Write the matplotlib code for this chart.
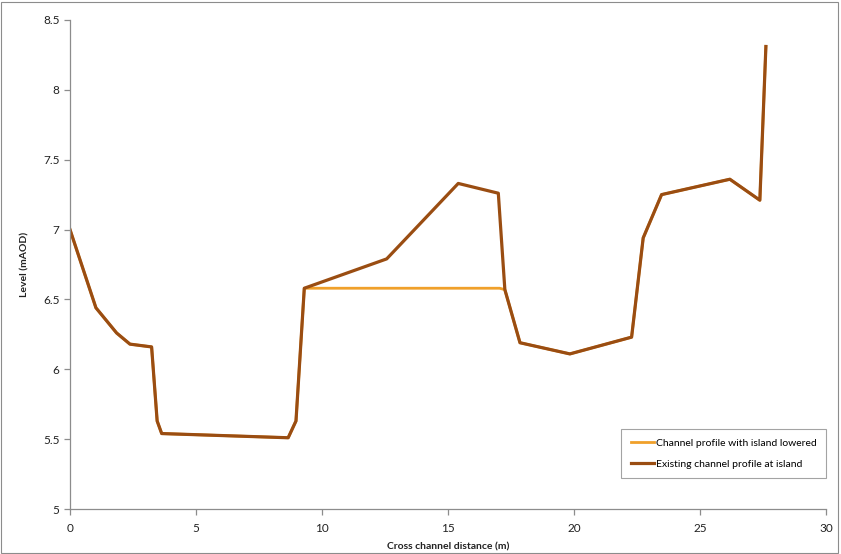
import matplotlib.pyplot as plt
from matplotlib.patches import Rectangle

# cross channel distance (m) and level (mAOD)
existing_x = [0.0, 1.03, 1.85, 2.38, 3.24, 3.46, 3.64, 8.66, 8.97, 9.3, 12.57,
              15.41, 17.0, 17.26, 17.86, 19.84, 22.29, 22.75, 23.48, 26.19, 27.38, 27.62]
existing_y = [7.0, 6.44, 6.26, 6.18, 6.16, 5.63, 5.54, 5.51, 5.63, 6.58, 6.79,
              7.33, 7.26, 6.57, 6.19, 6.11, 6.23, 6.94, 7.25, 7.36, 7.21, 8.31]

lowered_x = [0.0, 1.03, 1.85, 2.38, 3.24, 3.46, 3.64, 8.66, 8.97, 9.3, 12.0,
             17.05, 17.26, 17.86, 19.84, 22.29, 22.75, 23.48, 26.19, 27.38, 27.62]
lowered_y = [7.0, 6.44, 6.26, 6.18, 6.16, 5.63, 5.54, 5.51, 5.63, 6.58, 6.58,
             6.58, 6.57, 6.19, 6.11, 6.23, 6.94, 7.25, 7.36, 7.21, 8.31]

x_ticks = [0, 5, 10, 15, 20, 25, 30]
y_ticks = [5, 5.5, 6, 6.5, 7, 7.5, 8, 8.5]

plt.rcParams['font.family'] = ['Lato', 'DejaVu Sans']

fig = plt.figure(figsize=(8.41, 5.54), dpi=100)
ax = fig.add_axes([0.0832, 0.0812, 0.8988, 0.8828])

ax.plot(lowered_x, lowered_y, color='#F0A02A', lw=2.0,
        label='Channel profile with island lowered', solid_joinstyle='round')
ax.plot(existing_x, existing_y, color='#9A4D12', lw=2.3,
        label='Existing channel profile at island', solid_joinstyle='round')

ax.set_xlim(0, 30)
ax.set_ylim(5, 8.5)
ax.set_xticks(x_ticks)
ax.set_xticklabels([str(v) for v in x_ticks])
ax.set_yticks(y_ticks)
ax.set_yticklabels([f'{v:g}' for v in y_ticks])

for side in ['top', 'right']:
    ax.spines[side].set_visible(False)
for side in ['left', 'bottom']:
    ax.spines[side].set_color('#8C8C8C')
    ax.spines[side].set_linewidth(0.9)
ax.tick_params(axis='both', colors='#8C8C8C', labelcolor='#222222',
               labelsize=8.5, length=4, width=0.9)
ax.tick_params(axis='x', pad=6)

ax.set_xlabel('Cross channel distance (m)', fontsize=7.5, fontweight='bold',
              color='#222222', labelpad=6)
ax.set_ylabel('Level (mAOD)', fontsize=7.5, fontweight='bold',
              color='#222222', labelpad=10)

leg = ax.legend(loc='lower right', bbox_to_anchor=(1.0, 0.063), borderaxespad=0,
                fontsize=7.5, frameon=True, fancybox=False, handlelength=2.2,
                handletextpad=0.2, borderpad=0.9, labelspacing=1.1)
leg.get_frame().set_edgecolor('#8C8C8C')
leg.get_frame().set_linewidth(0.8)

fig.patches.append(Rectangle((0.001, 0.002), 0.996, 0.995, transform=fig.transFigure,
                             fill=False, edgecolor='#8C8C8C', lw=0.8))

fig.savefig('out.png', dpi=100)
